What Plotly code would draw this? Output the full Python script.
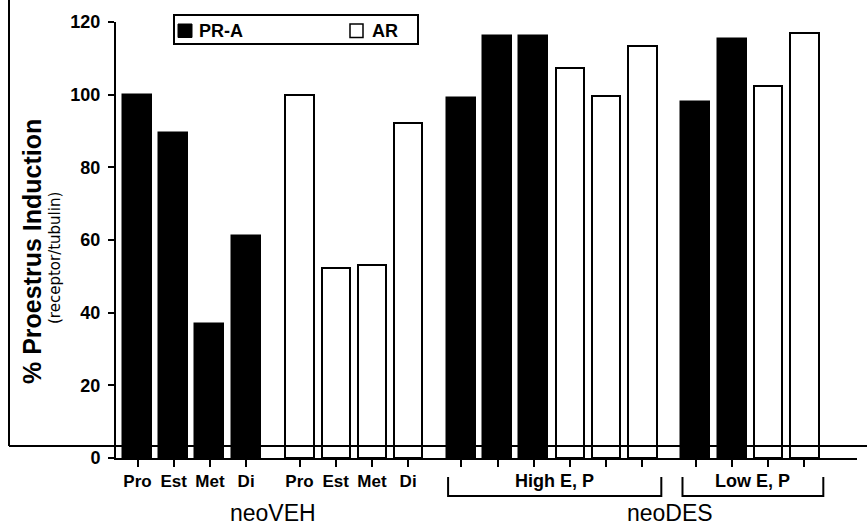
import plotly.graph_objects as go

# ---------------- data ----------------
stages = ["Pro", "Est", "Met", "Di"]
pra_neoveh = [100, 89.5, 36.9, 61.0]
ar_neoveh = [100, 52.4, 53.0, 92.2]
pra_high = [99.0, 116.1, 116.1]
ar_high = [107.3, 99.5, 113.4]
pra_low = [97.9, 115.3]
ar_low = [102.5, 116.9]
series_names = ["PR-A", "AR"]
bracket_labels = ["High E, P", "Low E, P"]
treatment_labels = ["neoVEH", "neoDES"]

# ---------------- layout geometry (image px) ----------------
W, H = 867, 526
AX_L, AX_R, AX_T, AX_B = 116, 857, 22, 458   # plot area
ML, MT = AX_L, AX_T
MR, MB = W - AX_R, H - AX_B
PW, PH = AX_R - AX_L, AX_B - AX_T
GAP = 1.475          # extra spacing between bar groups (in bar slots)
UNIT = 36.2          # px per bar slot
FIRST_PX = 137.5     # px of first bar centre

groups = [pra_neoveh, ar_neoveh, pra_high + ar_high, pra_low + ar_low]
group_pos = []
p = 0.0
for gi, g in enumerate(groups):
    if gi > 0:
        p += GAP
    pos = []
    for _ in g:
        pos.append(p)
        p += 1
    p -= 1
    group_pos.append(pos)

xmin = (AX_L - FIRST_PX) / UNIT
xmax = (AX_R - FIRST_PX) / UNIT

def px_x(px):
    return (px - AX_L) / PW

def px_y(py):
    return (AX_B - py) / PH

def pos_paper(pos):
    return (pos - xmin) / (xmax - xmin)

pra_x = group_pos[0] + group_pos[2][:len(pra_high)] + group_pos[3][:len(pra_low)]
pra_y = pra_neoveh + pra_high + pra_low
ar_x = group_pos[1] + group_pos[2][len(pra_high):] + group_pos[3][len(pra_low):]
ar_y = ar_neoveh + ar_high + ar_low

FONT = "Liberation Sans, Arial, Helvetica, sans-serif"

fig = go.Figure()
fig.add_trace(go.Bar(x=pra_x, y=pra_y, name=series_names[0], width=0.8,
                     marker=dict(color="black", line=dict(color="black", width=1.5)),
                     showlegend=False))
fig.add_trace(go.Bar(x=ar_x, y=ar_y, name=series_names[1], width=0.78,
                     marker=dict(color="white", line=dict(color="black", width=2)),
                     showlegend=False))

all_pos = [q for g in group_pos for q in g]
tick_text = stages + stages + [""] * (len(all_pos) - 2 * len(stages))

fig.update_layout(
    width=W, height=H,
    margin=dict(l=ML, r=MR, t=MT, b=MB, pad=0),
    paper_bgcolor="white", plot_bgcolor="white",
    font=dict(family=FONT, color="black"),
    xaxis=dict(range=[xmin, xmax], showline=True, linecolor="black", linewidth=2,
               tickvals=all_pos, ticktext=tick_text, ticks="outside", ticklen=7,
               tickwidth=2, tickcolor="black", showgrid=False, zeroline=False,
               automargin=False,
               tickfont=dict(size=17, family=FONT, weight="bold")),
    yaxis=dict(range=[0, 120], showline=True, linecolor="black", linewidth=2,
               tickvals=[0, 20, 40, 60, 80, 100, 120], ticks="outside", ticklen=6,
               tickwidth=2, tickcolor="black", showgrid=False, zeroline=False,
               ticklabelstandoff=4, automargin=False,
               tickfont=dict(size=18, family=FONT, weight="bold")),
    bargap=0,
)

shapes = []
anns = []
# scanned outer frame
shapes.append(dict(type="line", xref="paper", yref="paper", x0=px_x(9), x1=px_x(9),
                   y0=px_y(0), y1=px_y(446), line=dict(color="black", width=2), layer="above"))
shapes.append(dict(type="line", xref="paper", yref="paper", x0=px_x(9), x1=px_x(870),
                   y0=px_y(446), y1=px_y(446), line=dict(color="black", width=2), layer="above"))

# brackets under neoDES groups
by_top, by_bot = px_y(477), px_y(496)
for gi, lab in zip([2, 3], bracket_labels):
    x0 = pos_paper(group_pos[gi][0] - 0.37)
    x1 = pos_paper(group_pos[gi][-1] + 0.52)
    shapes.append(dict(type="path", xref="paper", yref="paper",
                       path=f"M {x0},{by_top} L {x0},{by_bot} L {x1},{by_bot} L {x1},{by_top}",
                       line=dict(color="black", width=2)))
    anns.append(dict(text=lab, xref="paper", yref="paper", x=(x0 + x1) / 2, y=px_y(481),
                     showarrow=False, xanchor="center", yanchor="middle",
                     font=dict(size=18, family=FONT, weight="bold")))

# treatment labels
anns.append(dict(text=treatment_labels[0], xref="paper", yref="paper",
                 x=pos_paper((group_pos[0][0] + group_pos[1][-1]) / 2), y=px_y(513),
                 showarrow=False, xanchor="center", yanchor="middle",
                 font=dict(size=23, family=FONT)))
anns.append(dict(text=treatment_labels[1], xref="paper", yref="paper",
                 x=px_x(670), y=px_y(513),
                 showarrow=False, xanchor="center", yanchor="middle",
                 font=dict(size=23, family=FONT)))

# y-axis titles
anns.append(dict(text="% Proestrus Induction", xref="paper", yref="paper",
                 x=px_x(32), y=px_y(252), textangle=-90, showarrow=False,
                 xanchor="center", yanchor="middle",
                 font=dict(size=25, family=FONT, weight="bold")))
anns.append(dict(text="(receptor/tubulin)", xref="paper", yref="paper",
                 x=px_x(55), y=px_y(258), textangle=-90, showarrow=False,
                 xanchor="center", yanchor="middle",
                 font=dict(size=15, family="DejaVu Sans")))

# manual legend
shapes.append(dict(type="rect", xref="paper", yref="paper", x0=px_x(174), x1=px_x(418),
                   y0=px_y(15), y1=px_y(44), line=dict(color="black", width=2),
                   fillcolor="white"))
shapes.append(dict(type="rect", xref="paper", yref="paper", x0=px_x(178), x1=px_x(192),
                   y0=px_y(24), y1=px_y(37.5), line=dict(color="black", width=1),
                   fillcolor="black"))
shapes.append(dict(type="rect", xref="paper", yref="paper", x0=px_x(350), x1=px_x(363),
                   y0=px_y(24), y1=px_y(37.5), line=dict(color="black", width=1.5),
                   fillcolor="white"))
anns.append(dict(text=series_names[0], xref="paper", yref="paper", x=px_x(197), y=px_y(31),
                 showarrow=False, xanchor="left", yanchor="middle",
                 font=dict(size=18, family=FONT, weight="bold")))
anns.append(dict(text=series_names[1], xref="paper", yref="paper", x=px_x(370), y=px_y(31),
                 showarrow=False, xanchor="left", yanchor="middle",
                 font=dict(size=18, family=FONT, weight="bold")))

fig.update_layout(shapes=shapes, annotations=anns)
fig.write_html("out.html",
               config={"displayModeBar": False},
               post_script="document.body.style.margin='0px';"
                           "document.body.style.overflow='hidden';")
